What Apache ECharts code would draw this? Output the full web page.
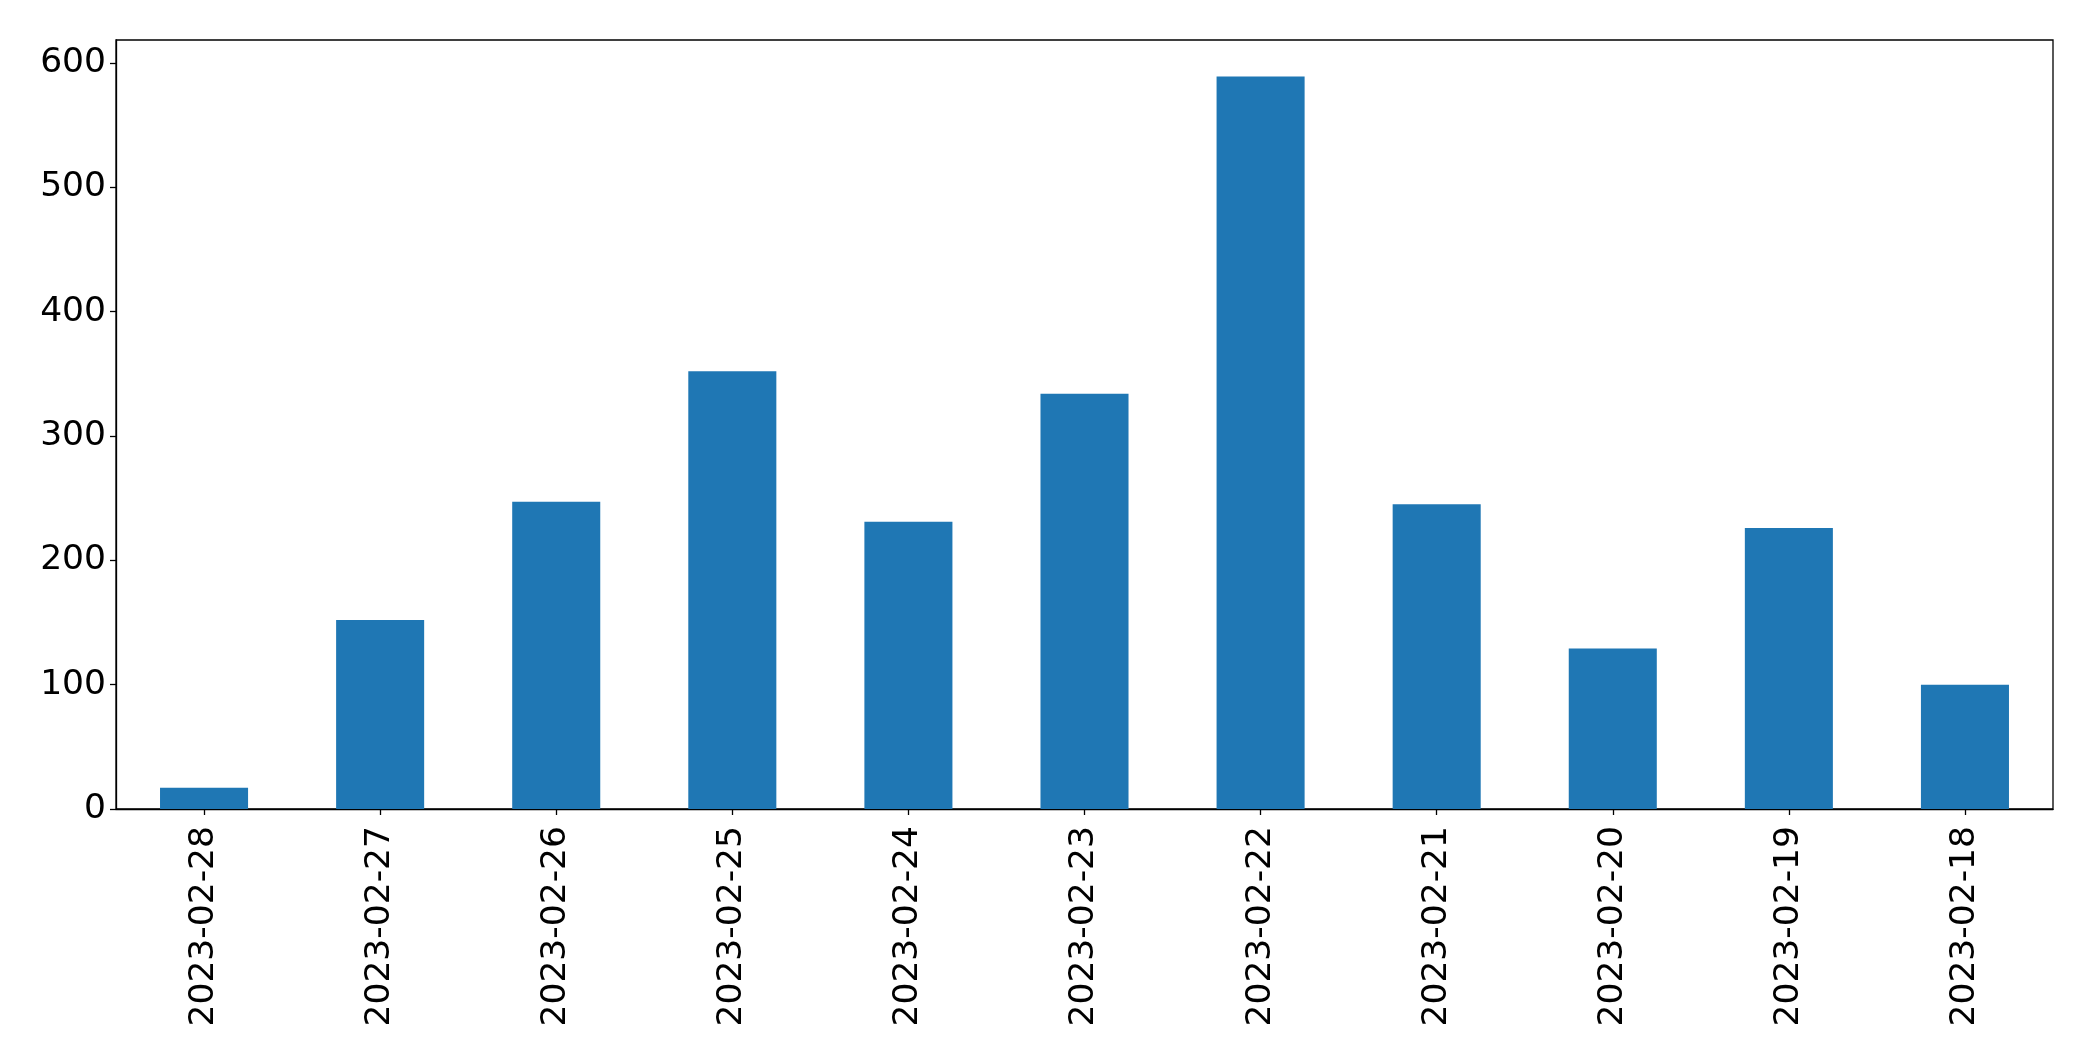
<!DOCTYPE html>
<html>
<head>
<meta charset="utf-8">
<script src="https://cdn.jsdelivr.net/npm/echarts@6/dist/echarts.min.js"></script>
<style>
html,body{margin:0;padding:0;background:#fff;}
#chart{width:2093px;height:1061px;}
</style>
</head>
<body>
<div id="chart"></div>
<script>
const categories = ['2023-02-28','2023-02-27','2023-02-26','2023-02-25','2023-02-24','2023-02-23','2023-02-22','2023-02-21','2023-02-20','2023-02-19','2023-02-18'];
const values = [17, 152, 247, 352, 231, 334, 589, 245, 129, 226, 100];
const yTicks = [0, 100, 200, 300, 400, 500, 600];

const chart = echarts.init(document.getElementById('chart'), null, {renderer: 'canvas'});
const font = 'DejaVu Sans';
chart.setOption({
  animation: false,
  backgroundColor: '#ffffff',
  grid: {
    left: 116, right: 40, top: 40, bottom: 252,
    show: true, borderColor: '#000', borderWidth: 1.3, backgroundColor: 'transparent'
  },
  xAxis: {
    type: 'category',
    data: categories,
    boundaryGap: true,
    axisLine: {show: true, lineStyle: {color: '#000', width: 1.3}},
    axisTick: {show: true, alignWithLabel: true, length: 6, lineStyle: {color: '#000', width: 1.3}},
    axisLabel: {rotate: 90, margin: 17, color: '#000', fontSize: 34.5, fontFamily: font, interval: 0},
    splitLine: {show: false}
  },
  yAxis: {
    type: 'value',
    min: 0,
    max: 618.45,
    interval: 100,
    axisLine: {show: true, lineStyle: {color: '#000', width: 1.3}},
    axisTick: {show: true, length: 6, lineStyle: {color: '#000', width: 1.3}},
    axisLabel: {
      margin: 10, color: '#000', fontSize: 34.5, fontFamily: font,
      showMaxLabel: false,
      padding: [4, 0, 0, 0],
      formatter: function (v) { return yTicks.indexOf(v) >= 0 ? String(v) : ''; }
    },
    splitLine: {show: false}
  },
  series: [{
    type: 'bar',
    data: values,
    barWidth: '50%',
    itemStyle: {color: '#1f77b4'}
  }]
});
</script>
</body>
</html>
